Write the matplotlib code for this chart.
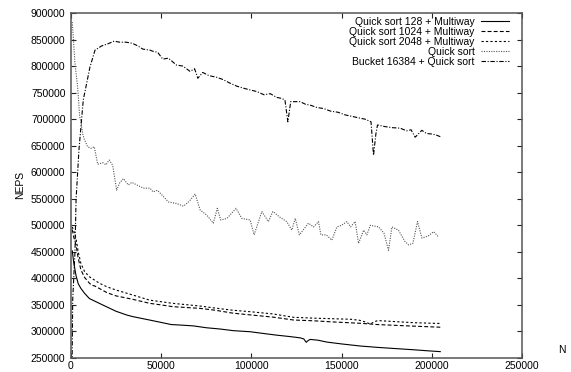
import matplotlib
matplotlib.use("Agg")
import matplotlib.pyplot as plt

plt.rcParams['font.family'] = ['Liberation Sans', 'DejaVu Sans']

# ---------------- data ----------------
n_qs128 = [700, 1500, 2800, 4000, 5500, 7500, 10200, 15700, 20000, 25000, 30900, 34200,
           43600, 50000, 55600, 61000, 67800, 75000, 82700, 90000, 99300, 106000, 114100,
           121000, 127000, 129000, 130400, 131500, 132600, 137000, 141800, 150000, 160300,
           170000, 178800, 190000, 198000, 204700]
v_qs128 = [452000, 430000, 405000, 390000, 381000, 372000, 362000, 353000, 346000, 338000,
           331000, 328000, 321500, 317000, 313000, 312000, 310500, 307000, 304600, 301500,
           299500, 296500, 293000, 290500, 288000, 286000, 279600, 283000, 285000, 283500,
           280000, 276500, 272600, 270000, 268000, 265500, 263500, 262000]

n_qs1024 = [700, 1500, 2800, 4000, 5500, 7500, 10200, 11500, 13000, 15700, 20000, 25000,
            34200, 43600, 50000, 56400, 71200, 80000, 89700, 100000, 112000, 123300, 135000,
            145000, 160300, 170000, 180000, 190000, 204700]
v_qs1024 = [492000, 478000, 463000, 438000, 416000, 402000, 391000, 387000, 386000, 381000,
            373000, 367000, 360600, 353000, 350000, 346700, 343600, 340000, 334500, 331000,
            327000, 321600, 320000, 318000, 315400, 313000, 311500, 310000, 308000]

n_qs2048 = [700, 1500, 2800, 4000, 5500, 7500, 10200, 15700, 20000, 25000, 34200, 43600,
            50000, 56400, 71200, 80000, 89700, 100000, 112000, 123300, 135000, 145000, 155000,
            160000, 163000, 165900, 168000, 170000, 180000, 190000, 204700]
v_qs2048 = [497000, 490000, 475000, 450000, 428000, 413000, 403000, 391000, 384000, 378000,
            368700, 359000, 356000, 353000, 348000, 344000, 340000, 337000, 333000, 326700,
            325000, 324000, 323000, 321000, 318000, 314000, 318000, 320500, 318500, 316500,
            315000]

n_qs = [700, 2200, 3700, 4800, 5500, 6500, 7400, 9200, 11100, 12900, 14800, 17600, 19400,
        21200, 23100, 25300, 27000, 29000, 31800, 33700, 36500, 40100, 43800, 45500, 47900,
        51000, 54000, 58600, 62300, 65500, 68800, 71600, 75300, 78900, 81100, 83000, 86400,
        91500, 94700, 99300, 101500, 105800, 109400, 111900, 115900, 119600, 122400, 124300,
        126600, 131600, 134500, 137200, 138500, 141500, 144600, 147400, 150000, 152900,
        155000, 157500, 159400, 162200, 164000, 165900, 170500, 173500, 176000, 177900,
        181500, 185000, 187100, 189500, 192100, 194500, 198000, 201000, 203800]
v_qs = [883000, 805000, 760000, 705000, 695000, 672000, 662000, 648000, 645000, 648000,
        615000, 618000, 614000, 623000, 613000, 566000, 580000, 588000, 576000, 581000,
        576000, 570000, 570000, 563000, 566000, 555000, 544000, 541000, 536000, 545000,
        559000, 529000, 519000, 504000, 532000, 510000, 513000, 532000, 513000, 510000,
        482000, 526000, 507000, 526000, 515000, 507000, 491000, 513000, 482000, 504000,
        497000, 507000, 482000, 482000, 472000, 497000, 500000, 507000, 497000, 507000,
        466000, 491000, 482000, 500000, 497000, 485000, 453000, 497000, 491000, 470000,
        463000, 466000, 507000, 476000, 480000, 488000, 478000]

n_bucket = [600, 950, 2200, 2800, 4400, 6800, 10500, 13300, 17000, 20500, 23900, 27000,
            30500, 34000, 37000, 39800, 43800, 45300, 48000, 50900, 54000, 58400, 62000,
            66000, 68500, 70300, 73000, 76500, 80600, 84000, 88000, 92000, 96000, 99300,
            103000, 107000, 110500, 114000, 116900, 118600, 120200, 121800, 123300, 127000,
            130000, 133000, 136300, 140000, 144000, 148000, 152000, 156600, 160000, 163000,
            165000, 166300, 167700, 169000, 169900, 174000, 178000, 182500, 186000, 188500,
            190800, 194500, 197000, 200000, 202500, 204700]
v_bucket = [240000, 360000, 450000, 548000, 642000, 736000, 798000, 830000, 838000, 842000,
            847000, 845000, 845000, 843000, 838000, 832000, 830000, 828000, 826000, 813000,
            815000, 802000, 800000, 790000, 795000, 777000, 788000, 782000, 779000, 775000,
            768000, 762000, 758000, 755000, 752000, 746000, 748000, 741000, 739000, 736000,
            695000, 733000, 733000, 733000, 728000, 726000, 722000, 720000, 715000, 713000,
            708000, 704600, 702000, 700000, 697000, 695000, 632000, 672000, 689000, 686000,
            684000, 683000, 678000, 680000, 666000, 679000, 673000, 672000, 670000, 667000]

labels = ["Quick sort 128 + Multiway", "Quick sort 1024 + Multiway",
          "Quick sort 2048 + Multiway", "Quick sort", "Bucket 16384 + Quick sort"]
x_ticks = [0, 50000, 100000, 150000, 200000, 250000]
y_ticks = [250000, 300000, 350000, 400000, 450000, 500000, 550000, 600000, 650000,
           700000, 750000, 800000, 850000, 900000]

# ---------------- figure ----------------
W, H = 571, 372
fig = plt.figure(figsize=(W / 100, H / 100), dpi=100)
ax = fig.add_axes([71 / W, 1 - 358 / H, (522 - 71) / W, (358 - 13) / H])

lw = 0.8
ax.plot(n_qs128, v_qs128, color='black', lw=lw, label=labels[0])
ax.plot(n_qs1024, v_qs1024, color='black', lw=lw, dashes=(3.5, 2), label=labels[1])
ax.plot(n_qs2048, v_qs2048, color='black', lw=lw, dashes=(2, 2), label=labels[2])
ax.plot(n_qs, v_qs, color='#555555', lw=lw, dashes=(1, 1.2), label=labels[3])
ax.plot(n_bucket, v_bucket, color='black', lw=lw, dashes=(4, 1.5, 1, 1.5), label=labels[4])

ax.set_xlim(0, 250000)
ax.set_ylim(250000, 900000)
ax.set_xticks(x_ticks)
ax.set_yticks(y_ticks)
ax.set_xticklabels([str(t) for t in x_ticks])
ax.set_yticklabels([str(t) for t in y_ticks])
ax.tick_params(direction='in', length=3.5, width=0.8, labelsize=7.5,
               top=True, right=True, color='#222222')
ax.tick_params(axis='y', pad=4)
ax.tick_params(axis='x', pad=2.5)
for s in ax.spines.values():
    s.set_color('#555555')
    s.set_linewidth(1.1)

fig.text(20 / W, 1 - 185 / H, "NEPS", rotation=90, ha='center', va='center', fontsize=7.5)
fig.text(562 / W, 1 - 350 / H, "N", ha='center', va='center', fontsize=7.5)

leg = ax.legend(loc='upper right', bbox_to_anchor=(509 / W, 1 - 17 / H),
                bbox_transform=fig.transFigure, frameon=False, markerfirst=False,
                fontsize=7.5, handlelength=2.7, handletextpad=0.6, labelspacing=0.0,
                borderpad=0, borderaxespad=0)

fig.savefig("out.png", dpi=100)
